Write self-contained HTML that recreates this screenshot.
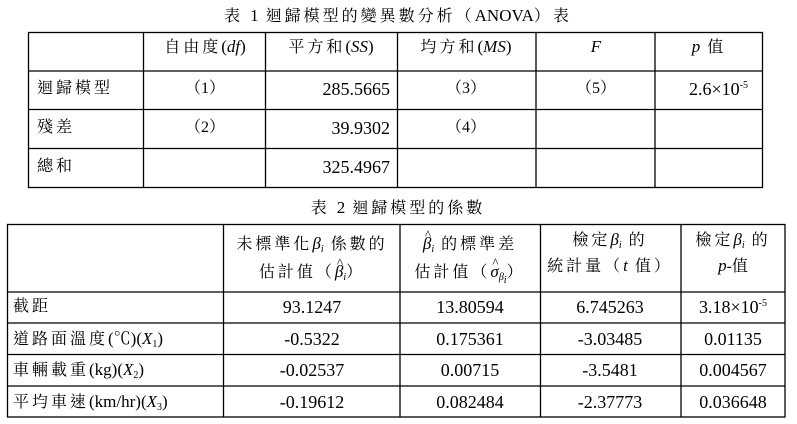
<!DOCTYPE html>
<html><head><meta charset="utf-8">
<style>
body{margin:0;width:797px;height:424px;background:#fff;position:relative;overflow:hidden;font-family:"Liberation Serif","Noto Serif CJK TC","Noto Serif CJK SC",serif;font-size:16px;color:#000}
.t{position:absolute;white-space:nowrap;line-height:18px}
.c{transform:translateX(-50%)}
.r{transform:translateX(-100%)}
i{font-style:italic;letter-spacing:0}
.n{letter-spacing:0;font-size:17px}
.v{font-size:18px;top:auto}
sup{font-size:10px;vertical-align:7px;line-height:0;letter-spacing:0}
sub{font-size:10px;vertical-align:-3px;line-height:0;letter-spacing:0}
.k{letter-spacing:3px}
.h{position:relative;display:inline-block}
.h:before{content:"^";position:absolute;left:2px;top:-9px;font-style:normal;font-size:13px}
</style></head><body>
<svg width="797" height="424" style="position:absolute;left:0;top:0" stroke="#000" stroke-width="1.3">
<rect x="28.5" y="32.5" width="734" height="155" fill="none"/>
<line x1="28" y1="71" x2="762" y2="71"/><line x1="28" y1="109.5" x2="762" y2="109.5"/><line x1="28" y1="148.5" x2="762" y2="148.5"/>
<line x1="143.5" y1="32" x2="143.5" y2="187"/><line x1="265.5" y1="32" x2="265.5" y2="187"/><line x1="397.5" y1="32" x2="397.5" y2="187"/><line x1="536" y1="32" x2="536" y2="187"/><line x1="655" y1="32" x2="655" y2="187"/>
<rect x="7.5" y="224.5" width="777.5" height="192.5" fill="none"/>
<line x1="7" y1="292" x2="785" y2="292"/><line x1="7" y1="323" x2="785" y2="323"/><line x1="7" y1="354.5" x2="785" y2="354.5"/><line x1="7" y1="386" x2="785" y2="386"/>
<line x1="223.5" y1="224" x2="223.5" y2="417"/><line x1="400" y1="224" x2="400" y2="417"/><line x1="540.5" y1="224" x2="540.5" y2="417"/><line x1="681" y1="224" x2="681" y2="417"/>
</svg>
<div class="t c k" style="left:398px;top:7px">表 <span class="n">1</span> 迴歸模型的變異數分析（<span class="n">ANOVA</span>）表</div>
<div class="t c k" style="left:205px;top:38px">自由度<span class="n">(<i>df</i>)</span></div>
<div class="t c k" style="left:331px;top:38px">平方和<span class="n">(<i>SS</i>)</span></div>
<div class="t c k" style="left:466px;top:38px">均方和<span class="n">(<i>MS</i>)</span></div>
<div class="t c n" style="left:596px;top:38px"><i>F</i></div>
<div class="t c k" style="left:709px;top:38px"><i class="n">p</i> 值</div>
<div class="t k" style="left:37px;top:80px">迴歸模型</div>
<div class="t k" style="left:37px;top:119px">殘差</div>
<div class="t k" style="left:37px;top:158px">總和</div>
<div class="t c" style="left:205px;top:80px">（1）</div>
<div class="t c" style="left:205px;top:119px">（2）</div>
<div class="t r v" style="left:390px;top:80px">285.5665</div>
<div class="t r v" style="left:390px;top:119px">39.9302</div>
<div class="t r v" style="left:390px;top:158px">325.4967</div>
<div class="t c" style="left:466px;top:80px">（3）</div>
<div class="t c" style="left:466px;top:119px">（4）</div>
<div class="t c" style="left:596px;top:80px">（5）</div>
<div class="t v" style="left:689px;top:80px">2.6×10<sup>-5</sup></div>
<div class="t c k" style="left:398px;top:199px">表 <span class="n">2</span> 迴歸模型的係數</div>
<div class="t c k" style="left:312px;top:235px">未標準化<i class="n">β<sub>i</sub></i> 係數的</div>
<div class="t c k" style="left:312px;top:263px">估計值（<i class="h n">β<sub>i</sub></i>）</div>
<div class="t c k" style="left:470px;top:235px"><i class="h n">β<sub>i</sub></i> 的標準差</div>
<div class="t c k" style="left:470px;top:263px">估計值（<i class="h n">σ</i><sub><i>β<sub>i</sub></i></sub>）</div>
<div class="t c k" style="left:610px;top:231px">檢定<i class="n">β<sub>i</sub></i> 的</div>
<div class="t c k" style="left:610px;top:257px">統計量（<i class="n">t</i> 值）</div>
<div class="t c k" style="left:733px;top:231px">檢定<i class="n">β<sub>i</sub></i> 的</div>
<div class="t c" style="left:733px;top:257px"><i class="n">p</i>-值</div>
<div class="t k" style="left:13px;top:298px">截距</div>
<div class="t k" style="left:13px;top:330px">道路面溫度<span class="n">(℃)(<i>X</i><sub>1</sub>)</span></div>
<div class="t k" style="left:13px;top:361px">車輛載重<span class="n">(kg)(<i>X</i><sub>2</sub>)</span></div>
<div class="t k" style="left:13px;top:393px">平均車速<span class="n">(km/hr)(<i>X</i><sub>3</sub>)</span></div>
<div class="t c v" style="left:312px;top:298px">93.1247</div>
<div class="t c v" style="left:312px;top:330px">-0.5322</div>
<div class="t c v" style="left:312px;top:361px">-0.02537</div>
<div class="t c v" style="left:312px;top:393px">-0.19612</div>
<div class="t c v" style="left:470px;top:298px">13.80594</div>
<div class="t c v" style="left:470px;top:330px">0.175361</div>
<div class="t c v" style="left:470px;top:361px">0.00715</div>
<div class="t c v" style="left:470px;top:393px">0.082484</div>
<div class="t c v" style="left:610px;top:298px">6.745263</div>
<div class="t c v" style="left:610px;top:330px">-3.03485</div>
<div class="t c v" style="left:610px;top:361px">-3.5481</div>
<div class="t c v" style="left:610px;top:393px">-2.37773</div>
<div class="t c v" style="left:733px;top:298px">3.18×10<sup>-5</sup></div>
<div class="t c v" style="left:733px;top:330px">0.01135</div>
<div class="t c v" style="left:733px;top:361px">0.004567</div>
<div class="t c v" style="left:733px;top:393px">0.036648</div>
</body></html>
